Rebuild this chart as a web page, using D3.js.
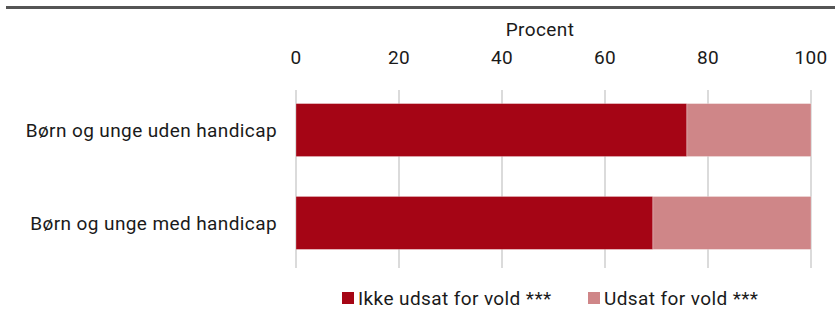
<!DOCTYPE html>
<html>
<head>
<meta charset="utf-8">
<script src="https://cdn.jsdelivr.net/npm/d3@7"></script>
<style>
  body { margin: 0; background: #fff; }
  text { font-family: Roboto, "Noto Sans", sans-serif; fill: #1a1a1a; letter-spacing: 0.4px; }
</style>
</head>
<body>
<script>
const categories = ['Børn og unge uden handicap', 'Børn og unge med handicap'];
const seriesNames = ['Ikke udsat for vold ***', 'Udsat for vold ***'];
const ikkeUdsat = [75.9, 69.3];
const udsat = [24.1, 30.7];
const ticks = [0, 20, 40, 60, 80, 100];
const colors = ['#a50515', '#cf8688'];

const width = 835, height = 316;
const svg = d3.select('body').append('svg')
  .attr('width', width).attr('height', height);

// top rule
svg.append('rect').attr('x', 6).attr('y', 6).attr('width', width - 6).attr('height', 3).attr('fill', '#555');

const x = d3.scaleLinear().domain([0, 100]).range([296, 811]);
const y = d3.scaleBand().domain(categories).range([85, 268]).paddingInner(0.43).paddingOuter(0.2);

// gridlines
svg.append('g').selectAll('line').data(ticks).join('line')
  .attr('x1', d => x(d)).attr('x2', d => x(d))
  .attr('y1', 90).attr('y2', 268)
  .attr('stroke', '#c8c8c8').attr('stroke-width', 1.3);

// tick labels
svg.append('g').selectAll('text').data(ticks).join('text')
  .attr('x', d => x(d)).attr('y', 64)
  .attr('text-anchor', 'middle').style('font-size', '19px')
  .text(d => d);

svg.append('text').attr('x', 540).attr('y', 36)
  .attr('text-anchor', 'middle').style('font-size', '19px').text('Procent');

const stacked = d3.stack().keys([0, 1])
  .value((d, k) => k === 0 ? ikkeUdsat[d] : udsat[d])(categories.map((c, i) => i));

svg.append('g').selectAll('g').data(stacked).join('g')
  .attr('fill', (d, i) => colors[i])
  .selectAll('rect').data(d => d).join('rect')
  .attr('x', d => x(d[0]))
  .attr('width', d => x(d[1]) - x(d[0]))
  .attr('y', (d, i) => y(categories[i]))
  .attr('height', y.bandwidth())
  .attr('stroke', 'rgba(255,255,255,0.35)').attr('stroke-width', 0.8);

// category labels
svg.append('g').selectAll('text').data(categories).join('text')
  .attr('x', 277).attr('y', d => y(d) + y.bandwidth() / 2)
  .attr('dy', '0.35em').attr('text-anchor', 'end')
  .style('font-size', '19px').text(d => d);

// legend
const legX = [342, 588];
const leg = svg.append('g').selectAll('g').data(seriesNames).join('g')
  .attr('transform', (d, i) => `translate(${legX[i]},292)`);
leg.append('rect').attr('width', 12).attr('height', 12).attr('fill', (d, i) => colors[i]);
leg.append('text').attr('x', 16).attr('y', 6).attr('dy', '0.35em')
  .style('font-size', '19px').text(d => d);
</script>
</body>
</html>
